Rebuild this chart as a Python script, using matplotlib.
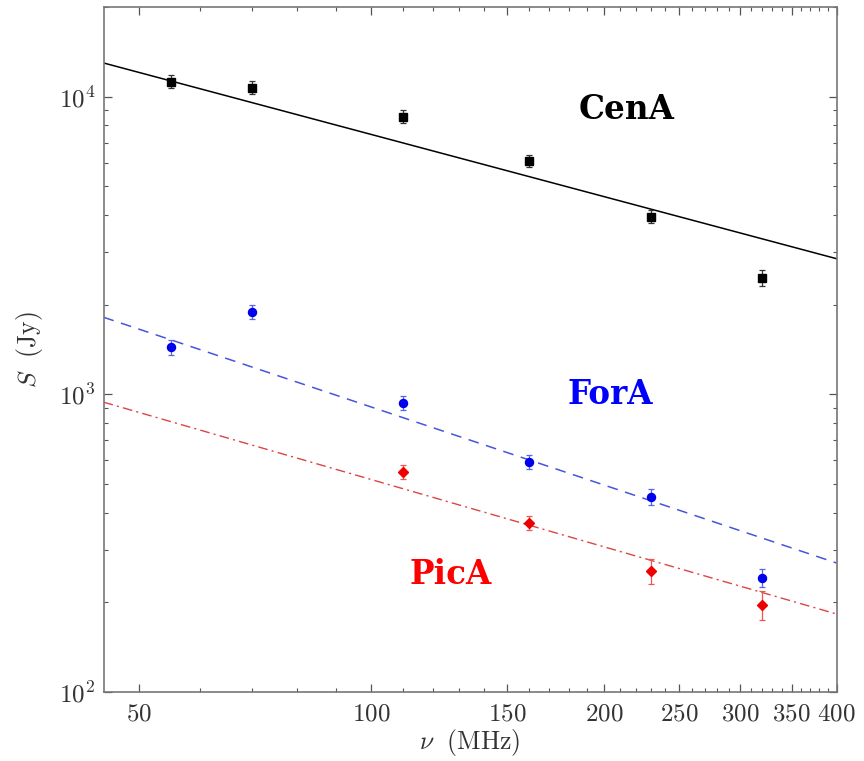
import numpy as np
import matplotlib
matplotlib.use("Agg")
import matplotlib.pyplot as plt
from matplotlib.ticker import FixedLocator, MultipleLocator, LogLocator, FuncFormatter, NullFormatter

plt.rcParams['mathtext.fontset'] = 'cm'

# Frequencies (MHz)
freq = [55, 70, 110, 160, 230, 320]
freq_pica = [110, 160, 230, 320]

# Flux densities (Jy) and errors
cena_flux = [11230, 10720, 8570, 6090, 3950, 2460]
cena_err = [560, 540, 430, 300, 200, 150]
fora_flux = [1440, 1890, 936, 593, 452, 242]
fora_err = [80, 100, 50, 32, 27, 17]
pica_flux = [549, 370, 255, 196]
pica_err = [28, 21, 24, 22]

# Power-law fits: S(100 MHz) and spectral index
cena_s100, cena_alpha = 7460, -0.693
fora_s100, fora_alpha = 906, -0.870
pica_s100, pica_alpha = 517, -0.750

xticks = [50, 100, 150, 200, 250, 300, 350, 400]

fig = plt.figure(figsize=(8.64, 7.61), dpi=100)
ax = fig.add_axes([0.1198, 0.0907, 0.8484, 0.9001])
ax.set_xscale('log')
ax.set_yscale('log')
ax.set_xlim(45, 400)
ax.set_ylim(100, 2.0e4)

nu = np.logspace(np.log10(45), np.log10(400), 200)
ax.plot(nu, cena_s100 * (nu / 100.0) ** cena_alpha, color='black', lw=1.1, ls='-')
ax.plot(nu, fora_s100 * (nu / 100.0) ** fora_alpha, color='#4455dd', lw=1.1, ls=(0, (7, 5)))
ax.plot(nu, pica_s100 * (nu / 100.0) ** pica_alpha, color='#dd4444', lw=1.0, ls=(0, (7, 3, 1.5, 3)))

ax.errorbar(freq, cena_flux, yerr=cena_err, fmt='s', color='black', ms=5.8,
            ecolor='#333333', elinewidth=0.9, capsize=2.5, capthick=0.9)
ax.errorbar(freq, fora_flux, yerr=fora_err, fmt='o', color='#0000ee', ms=5.8,
            ecolor='#5566ee', elinewidth=0.9, capsize=2.5, capthick=0.9)
ax.errorbar(freq_pica, pica_flux, yerr=pica_err, fmt='D', color='#ee0000', ms=4.6,
            ecolor='#ee5555', elinewidth=0.9, capsize=2.5, capthick=0.9)

# Source labels
lab_font = dict(family='DejaVu Serif', fontweight='bold', fontsize=23.5,
                ha='center', va='center', transform=ax.transAxes)
ax.text(0.714, 0.850, 'CenA', color='black', **lab_font)
ax.text(0.691, 0.434, 'ForA', color='#0000ff', **lab_font)
ax.text(0.474, 0.171, 'PicA', color='#ff0000', **lab_font)

# Axes styling
ax.xaxis.set_major_locator(FixedLocator(xticks))
ax.xaxis.set_minor_locator(MultipleLocator(10))
ax.xaxis.set_major_formatter(FuncFormatter(lambda v, p: r'$%d$' % v))
ax.xaxis.set_minor_formatter(NullFormatter())
ax.yaxis.set_major_locator(LogLocator(base=10))
ax.yaxis.set_minor_locator(LogLocator(base=10, subs=np.arange(2, 10)))
ax.yaxis.set_major_formatter(FuncFormatter(lambda v, p: r'$10^{%d}$' % round(np.log10(v))))
ax.yaxis.set_minor_formatter(NullFormatter())

for s in ax.spines.values():
    s.set_color('#777777')
    s.set_linewidth(1.2)
ax.tick_params(which='both', direction='in', top=True, right=True, color='#555555',
               labelcolor='#333333', labelsize=18)
ax.tick_params(which='major', length=5.5, width=0.9)
ax.tick_params(which='minor', length=3, width=0.8)
ax.tick_params(axis='x', which='major', pad=7)
ax.tick_params(axis='y', which='major', pad=6)

ax.set_xlabel(r'$\nu\ \ (\mathrm{MHz})$', fontsize=18.5, color='#333333', labelpad=1)
ax.set_ylabel(r'$S\ \ (\mathrm{Jy})$', fontsize=18.5, color='#333333', labelpad=10)

fig.savefig('out.png', dpi=100)
